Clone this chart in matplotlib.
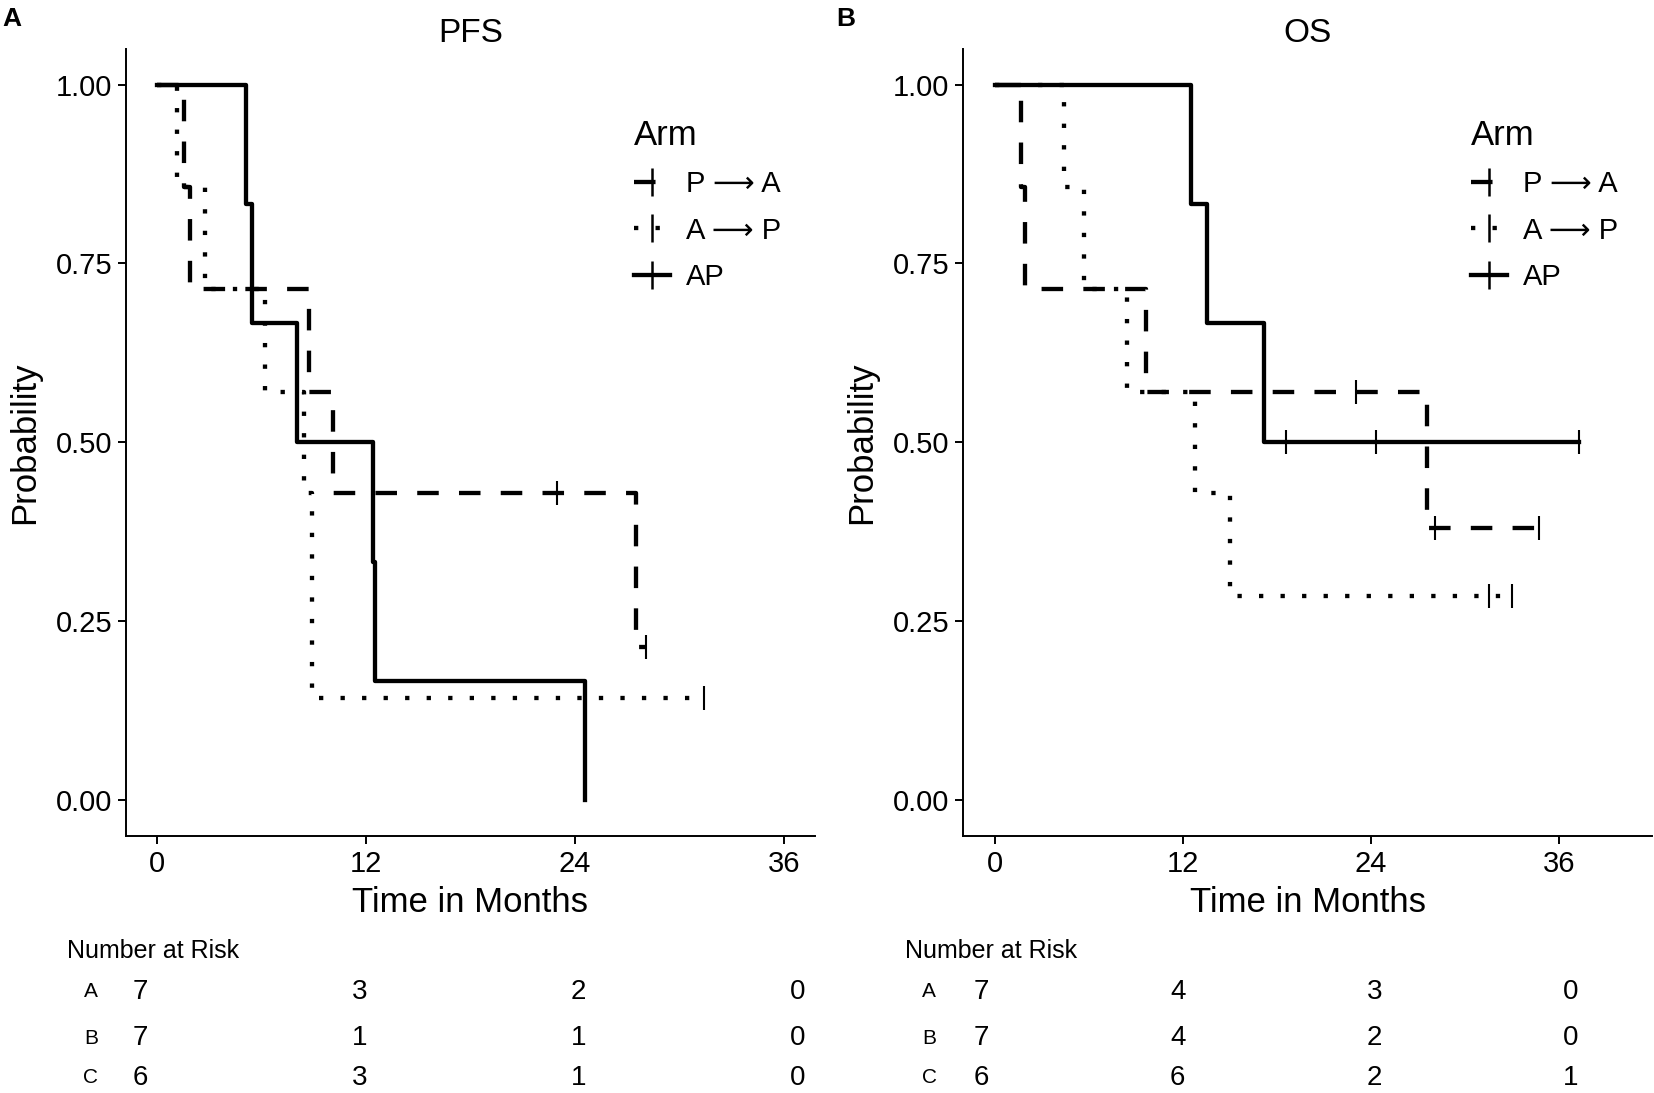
import numpy as np
import matplotlib
matplotlib.use("Agg")
import matplotlib.pyplot as plt
from matplotlib.lines import Line2D
from matplotlib.ticker import FormatStrFormatter

plt.rcParams['font.family'] = ['Liberation Sans', 'DejaVu Sans']

# arms and the risk table rows
arm_labels = ['P \u27f6 A', 'A \u27f6 P', 'AP']
row_letters = ['A', 'B', 'C']
risk_times = [0, 12, 24, 36]

# PFS curves: step times (months) and survival after each step
pfs_pa_t = [0, 1.59, 1.89, 8.75, 10.13, 27.5, 28.05]
pfs_pa_s = [1.0, 0.857, 0.714, 0.571, 0.429, 0.214, 0.214]
pfs_pa_cens = [22.96, 28.05]

pfs_ap_t = [0, 1.17, 2.77, 6.2, 8.45, 8.94, 31.4]
pfs_ap_s = [1.0, 0.857, 0.714, 0.571, 0.429, 0.143, 0.143]
pfs_ap_cens = [31.4]

pfs_c_t = [0, 5.1, 5.5, 8.07, 12.4, 12.5, 24.55]
pfs_c_s = [1.0, 0.833, 0.667, 0.5, 0.333, 0.167, 0.0]
pfs_c_cens = []

pfs_risk = [[7, 3, 2, 0], [7, 1, 1, 0], [6, 3, 1, 0]]

# OS curves
os_pa_t = [0, 1.71, 1.93, 9.64, 27.56, 34.7]
os_pa_s = [1.0, 0.857, 0.714, 0.571, 0.381, 0.381]
os_pa_cens = [23.04, 28.07, 34.7]

os_ap_t = [0, 4.41, 5.68, 8.45, 12.76, 14.98, 33.0]
os_ap_s = [1.0, 0.857, 0.714, 0.571, 0.429, 0.286, 0.286]
os_ap_cens = [31.5, 33.0]

os_c_t = [0, 12.5, 13.56, 17.17, 37.25]
os_c_s = [1.0, 0.833, 0.667, 0.5, 0.5]
os_c_cens = [18.6, 24.3, 37.25]

os_risk = [[7, 4, 3, 0], [7, 4, 2, 0], [6, 6, 2, 1]]

line_styles = [(0, (5, 4.7)), (0, (1, 4)), '-']
LW = 3.1


def draw_km(ax, t, s, cens, ls):
    """step curve plus '|' censor ticks sitting on the curve"""
    ax.step(t, s, where='post', color='black', lw=LW, linestyle=ls)
    if len(cens):
        idx = np.searchsorted(t, cens, side='right') - 1
        ax.plot(cens, np.array(s)[idx], ls='none', marker='|', ms=17, mew=1.5, color='black')


def setup_axes(ax, xlim, title):
    ax.set_xlim(*xlim)
    ax.set_ylim(-0.05, 1.05)
    ax.set_xticks(risk_times)
    ax.set_yticks([0, 0.25, 0.5, 0.75, 1.0])
    ax.yaxis.set_major_formatter(FormatStrFormatter('%.2f'))
    for side in ['top', 'right']:
        ax.spines[side].set_visible(False)
    for side in ['left', 'bottom']:
        ax.spines[side].set_linewidth(1.4)
    ax.tick_params(length=6, width=1.4, labelsize=21, pad=4)
    ax.set_title(title, fontsize=24, pad=1)
    ax.set_xlabel('Time in Months', fontsize=25, va='center')
    ax.xaxis.set_label_coords(0.5, -0.085)
    ax.set_ylabel('Probability', fontsize=25, va='center')
    ax.yaxis.set_label_coords(-0.147, 0.5)
    handles = [Line2D([], [], color='black', lw=LW, linestyle=ls, marker='|', ms=20, mew=1.8)
               for ls in line_styles]
    ax.legend(handles, arm_labels, title='Arm', loc='upper left', bbox_to_anchor=(0.737, 0.911),
              frameon=False, fontsize=21, title_fontsize=25, alignment='left',
              handlelength=1.25, handletextpad=0.55, labelspacing=0.63,
              borderpad=0, borderaxespad=0)


def risk_table(fig, x0, x1, risk, letter_x, head_x):
    """number at risk below a panel; x in months, y in figure fraction"""
    tab = fig.add_axes([x0, 0, x1 - x0, 1])
    tab.set_xlim(0, 36)
    tab.set_ylim(0, 1)
    tab.axis('off')
    tab.text(head_x, 0.1299, 'Number at Risk', fontsize=18, ha='left', va='center')
    row_y = [0.0925, 0.0503, 0.0138]
    for letter, counts, y in zip(row_letters, risk, row_y):
        tab.text(letter_x, y, letter, fontsize=15, ha='center', va='center')
        for tm, n in zip(risk_times, counts):
            tab.text(tm, y, str(n), fontsize=20, ha='center', va='center')


fig = plt.figure(figsize=(16.54, 10.93), dpi=100)

ax1 = fig.add_axes([0.0762, 0.2351, 0.4165, 0.7203])
for t, s, c, ls in zip([pfs_pa_t, pfs_ap_t, pfs_c_t], [pfs_pa_s, pfs_ap_s, pfs_c_s],
                       [pfs_pa_cens, pfs_ap_cens, pfs_c_cens], line_styles):
    draw_km(ax1, t, s, c, ls)
setup_axes(ax1, (-1.75, 37.75), 'PFS')

ax2 = fig.add_axes([0.5823, 0.2351, 0.4165, 0.7203])
for t, s, c, ls in zip([os_pa_t, os_ap_t, os_c_t], [os_pa_s, os_ap_s, os_c_s],
                       [os_pa_cens, os_ap_cens, os_c_cens], line_styles):
    draw_km(ax2, t, s, c, ls)
setup_axes(ax2, (-2.0, 41.9), 'OS')

risk_table(fig, 0.0848, 0.4824, pfs_risk, -2.7, -4.01)
risk_table(fig, 0.5932, 0.9498, os_risk, -3.16, -4.67)

fig.text(0.007, 0.9826, 'A', fontsize=19, fontweight='bold', ha='center', va='center')
fig.text(0.5112, 0.9826, 'B', fontsize=19, fontweight='bold', ha='center', va='center')

fig.savefig('out.png', dpi=100)
